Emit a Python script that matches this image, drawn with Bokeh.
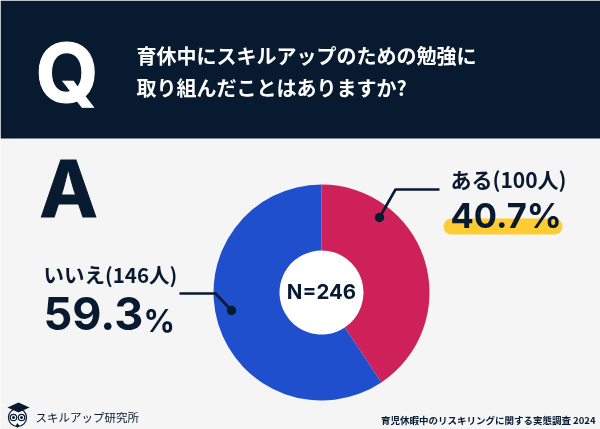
import numpy as np
from bokeh.plotting import figure
from bokeh.models import Range1d
from bokeh.embed import file_html
from bokeh.resources import INLINE

# ---- data ----
categories = ["ある", "いいえ"]
counts = [100, 146]
percents = ["40.7%", "59.3"]
colors = ["#CE2159", "#1F4FCC"]
question = ["育休中にスキルアップのための勉強に", "取り組んだことはありますか?"]
total_label = "N=246"
brand = "スキルアップ研究所"
source = "育児休暇中のリスキリングに関する実態調査 2024"

W, H = 600, 429
NAVY = "#071A30"
BG = "#F5F5F5"
JP = "Noto Sans CJK JP"
LAT = "Inter"
Y = lambda v: H - v

p = figure(width=W, height=H, output_backend="svg", toolbar_location=None,
           x_range=Range1d(0, W), y_range=Range1d(0, H), min_border=0,
           background_fill_color=BG, border_fill_color=BG, outline_line_color=None,
           styles={"position": "fixed", "left": "0", "top": "0"})
p.axis.visible = False
p.grid.visible = False


def label(x, y, s, size, color=NAVY, style="bold", align="left", font=JP, outline=None):
    kw = {"text_outline_color": outline} if outline else {}
    p.text([x], [Y(y)], text=[s], text_font={"value": font}, text_font_size=f"{size}px", text_color=color,
           text_font_style=style, text_align=align, text_baseline="alphabetic", **kw)


# header band
p.quad(left=[0], right=[W], bottom=[Y(138)], top=[Y(0)], fill_color=NAVY, line_color=None)
label(35, 72, "Q", 81, color="white", font=LAT, outline="white")
label(136, 55, question[0], 20, color="white")
label(136, 87, question[1], 20, color="white")
label(39, 188, "A", 78, font=LAT, outline=NAVY)

# donut
v = np.array(counts, dtype=float)
edges = np.pi / 2 - 2 * np.pi * np.concatenate([[0], np.cumsum(v)]) / v.sum()
p.circle([321], [Y(292)], radius=50, fill_color="white", line_color=None)
p.annular_wedge(x=321, y=Y(292), inner_radius=42, outer_radius=108,
                start_angle=edges[1:], end_angle=edges[:-1], direction="anticlock",
                fill_color=colors, line_color=None)
label(321, 291, total_label, 20.5, align="center", font=LAT)

# leaders
p.line([439, 395, 379], [Y(189), Y(189), Y(217)], line_color=NAVY, line_width=2.6)
p.scatter([379], [Y(217)], size=9.5, marker="circle", fill_color=NAVY, line_color=None)
p.line([179, 215, 231], [Y(293), Y(293), Y(310)], line_color=NAVY, line_width=2.6)
p.scatter([231], [Y(310)], size=9.5, marker="circle", fill_color=NAVY, line_color=None)

# highlight + labels
p.line([451, 554], [Y(226), Y(226)], line_color="#FFCC33", line_width=16, line_cap="round")
label(450, 178.5, f"{categories[0]}({counts[0]}人)", 21)
label(450, 215, percents[0], 34.5, font=LAT)
label(43, 273.5, f"{categories[1]}({counts[1]}人)", 20.5)
label(43, 313, percents[1], 45, font=LAT)
label(143, 320, "%", 31, font=LAT)

# footer logo
p.circle([17], [Y(417)], radius=9, fill_color="white", line_color=NAVY, line_width=1.3)
p.circle([13, 21], [Y(417), Y(417)], radius=3.2, fill_color="white", line_color=NAVY, line_width=1.2)
p.scatter([13, 21], [Y(417), Y(417)], size=3, marker="circle", fill_color=NAVY, line_color=None)
p.patch([7, 18, 29, 18], [Y(407), Y(402), Y(407), Y(412)], fill_color=NAVY, line_color=None)
p.scatter([17], [Y(425)], size=5, marker="diamond", fill_color=NAVY, line_color=None)
label(35, 416, brand, 11.5, style="normal")
label(595, 419, source, 9.5, align="right")

open("out.html", "w").write(file_html(p, INLINE))
